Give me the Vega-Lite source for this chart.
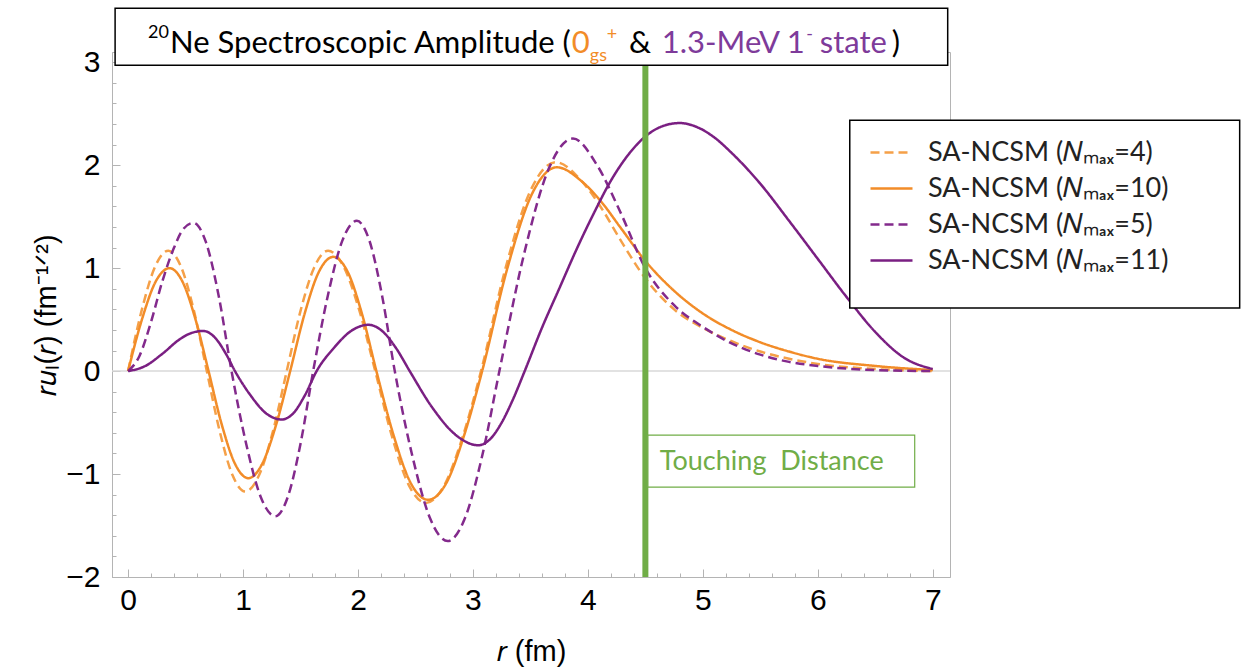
{
  "$schema": "https://vega.github.io/schema/vega-lite/v6.json",
  "width": 838,
  "height": 525,
  "autosize": "none",
  "padding": {"left": 112, "top": 52, "right": 295, "bottom": 95},
  "background": "white",
  "config": {
    "view": {"stroke": "#b4b4b4", "strokeWidth": 1},
    "axis": {
      "domainColor": "#b4b4b4",
      "tickColor": "#b4b4b4",
      "labelFont": "Liberation Sans",
      "labelFontSize": 30,
      "labelColor": "black",
      "titleFont": "Liberation Sans",
      "titleFontSize": 29,
      "titleFontWeight": "normal",
      "titleColor": "black",
      "grid": false,
      "labelOverlap": false,
      "labelFlush": false
    }
  },
  "layer": [
    {
      "data": {"values": [{}]},
      "mark": {"type": "rule", "color": "#d9d9d9", "strokeWidth": 1.5},
      "encoding": {"y": {"datum": 0, "type": "quantitative"}}
    },
    {
      "data": {"values": [
        {"s":"N4","r":0,"v":0},{"s":"N4","r":0.117,"v":0.585},{"s":"N4","r":0.233,"v":1.01},{"s":"N4","r":0.35,"v":1.17},{"s":"N4","r":0.462,"v":1.01},{"s":"N4","r":0.573,"v":0.585},{"s":"N4","r":0.685,"v":0},{"s":"N4","r":0.797,"v":-0.585},{"s":"N4","r":0.908,"v":-1.01},{"s":"N4","r":1.02,"v":-1.17},{"s":"N4","r":1.14,"v":-1.01},{"s":"N4","r":1.26,"v":-0.585},{"s":"N4","r":1.38,"v":0},{"s":"N4","r":1.5,"v":0.585},{"s":"N4","r":1.62,"v":1.01},{"s":"N4","r":1.74,"v":1.17},{"s":"N4","r":1.877,"v":1.01},{"s":"N4","r":2.013,"v":0.585},{"s":"N4","r":2.15,"v":0},{"s":"N4","r":2.297,"v":-0.64},{"s":"N4","r":2.443,"v":-1.11},{"s":"N4","r":2.59,"v":-1.28},{"s":"N4","r":2.75,"v":-1.11},{"s":"N4","r":2.91,"v":-0.64},{"s":"N4","r":3.07,"v":0},{"s":"N4","r":3.287,"v":1.015},{"s":"N4","r":3.503,"v":1.76},{"s":"N4","r":3.72,"v":2.03},{"s":"N4","r":3.95,"v":1.84},{"s":"N4","r":4.12,"v":1.58},{"s":"N4","r":4.28,"v":1.28},{"s":"N4","r":4.5,"v":0.9},{"s":"N4","r":4.75,"v":0.6},{"s":"N4","r":5.0,"v":0.42},{"s":"N4","r":5.25,"v":0.29},{"s":"N4","r":5.5,"v":0.19},{"s":"N4","r":5.75,"v":0.12},{"s":"N4","r":6.0,"v":0.07},{"s":"N4","r":6.5,"v":0.02},{"s":"N4","r":7.0,"v":0},
        {"s":"N10","r":0,"v":0},{"s":"N10","r":0.12,"v":0.5},{"s":"N10","r":0.24,"v":0.87},{"s":"N10","r":0.36,"v":1.0},{"s":"N10","r":0.473,"v":0.87},{"s":"N10","r":0.587,"v":0.5},{"s":"N10","r":0.7,"v":0},{"s":"N10","r":0.815,"v":-0.52},{"s":"N10","r":0.93,"v":-0.9},{"s":"N10","r":1.046,"v":-1.04},{"s":"N10","r":1.167,"v":-0.9},{"s":"N10","r":1.288,"v":-0.52},{"s":"N10","r":1.41,"v":0},{"s":"N10","r":1.535,"v":0.555},{"s":"N10","r":1.66,"v":0.965},{"s":"N10","r":1.785,"v":1.11},{"s":"N10","r":1.91,"v":0.965},{"s":"N10","r":2.035,"v":0.555},{"s":"N10","r":2.16,"v":0},{"s":"N10","r":2.31,"v":-0.625},{"s":"N10","r":2.46,"v":-1.09},{"s":"N10","r":2.61,"v":-1.25},{"s":"N10","r":2.767,"v":-1.09},{"s":"N10","r":2.923,"v":-0.625},{"s":"N10","r":3.08,"v":0},{"s":"N10","r":3.297,"v":0.99},{"s":"N10","r":3.513,"v":1.72},{"s":"N10","r":3.73,"v":1.98},{"s":"N10","r":3.95,"v":1.84},{"s":"N10","r":4.12,"v":1.64},{"s":"N10","r":4.28,"v":1.4},{"s":"N10","r":4.5,"v":1.07},{"s":"N10","r":4.75,"v":0.78},{"s":"N10","r":5.0,"v":0.56},{"s":"N10","r":5.25,"v":0.4},{"s":"N10","r":5.5,"v":0.28},{"s":"N10","r":5.75,"v":0.19},{"s":"N10","r":6.0,"v":0.12},{"s":"N10","r":6.5,"v":0.05},{"s":"N10","r":7.0,"v":0.01},
        {"s":"N5","r":0,"v":0},{"s":"N5","r":0.1,"v":0.15},{"s":"N5","r":0.2,"v":0.48},{"s":"N5","r":0.3,"v":0.88},{"s":"N5","r":0.4,"v":1.2},{"s":"N5","r":0.48,"v":1.38},{"s":"N5","r":0.568,"v":1.44},{"s":"N5","r":0.678,"v":1.25},{"s":"N5","r":0.79,"v":0.72},{"s":"N5","r":0.9,"v":0},{"s":"N5","r":1.027,"v":-0.705},{"s":"N5","r":1.153,"v":-1.22},{"s":"N5","r":1.28,"v":-1.41},{"s":"N5","r":1.39,"v":-1.22},{"s":"N5","r":1.5,"v":-0.705},{"s":"N5","r":1.61,"v":0},{"s":"N5","r":1.737,"v":0.73},{"s":"N5","r":1.863,"v":1.265},{"s":"N5","r":1.99,"v":1.46},{"s":"N5","r":2.1,"v":1.265},{"s":"N5","r":2.21,"v":0.73},{"s":"N5","r":2.32,"v":0},{"s":"N5","r":2.473,"v":-0.825},{"s":"N5","r":2.627,"v":-1.43},{"s":"N5","r":2.78,"v":-1.65},{"s":"N5","r":2.93,"v":-1.43},{"s":"N5","r":3.08,"v":-0.825},{"s":"N5","r":3.23,"v":0},{"s":"N5","r":3.443,"v":1.13},{"s":"N5","r":3.657,"v":1.96},{"s":"N5","r":3.87,"v":2.26},{"s":"N5","r":4.08,"v":2.0},{"s":"N5","r":4.28,"v":1.55},{"s":"N5","r":4.5,"v":1.0},{"s":"N5","r":4.75,"v":0.64},{"s":"N5","r":5.0,"v":0.43},{"s":"N5","r":5.25,"v":0.27},{"s":"N5","r":5.5,"v":0.16},{"s":"N5","r":5.75,"v":0.09},{"s":"N5","r":6.0,"v":0.05},{"s":"N5","r":6.5,"v":0.01},{"s":"N5","r":7.0,"v":0},
        {"s":"N11","r":0,"v":0},{"s":"N11","r":0.15,"v":0.05},{"s":"N11","r":0.3,"v":0.17},{"s":"N11","r":0.45,"v":0.31},{"s":"N11","r":0.55,"v":0.37},{"s":"N11","r":0.655,"v":0.39},{"s":"N11","r":0.76,"v":0.32},{"s":"N11","r":0.85,"v":0.17},{"s":"N11","r":0.93,"v":0},{"s":"N11","r":1.065,"v":-0.235},{"s":"N11","r":1.2,"v":-0.41},{"s":"N11","r":1.336,"v":-0.47},{"s":"N11","r":1.437,"v":-0.41},{"s":"N11","r":1.538,"v":-0.235},{"s":"N11","r":1.64,"v":0},{"s":"N11","r":1.79,"v":0.225},{"s":"N11","r":1.94,"v":0.39},{"s":"N11","r":2.09,"v":0.45},{"s":"N11","r":2.21,"v":0.39},{"s":"N11","r":2.33,"v":0.225},{"s":"N11","r":2.45,"v":0},{"s":"N11","r":2.65,"v":-0.36},{"s":"N11","r":2.85,"v":-0.62},{"s":"N11","r":3.046,"v":-0.72},{"s":"N11","r":3.15,"v":-0.66},{"s":"N11","r":3.25,"v":-0.5},{"s":"N11","r":3.35,"v":-0.27},{"s":"N11","r":3.45,"v":0},{"s":"N11","r":3.6,"v":0.42},{"s":"N11","r":3.75,"v":0.8},{"s":"N11","r":3.9,"v":1.18},{"s":"N11","r":4.05,"v":1.53},{"s":"N11","r":4.2,"v":1.85},{"s":"N11","r":4.35,"v":2.1},{"s":"N11","r":4.5,"v":2.28},{"s":"N11","r":4.65,"v":2.38},{"s":"N11","r":4.8,"v":2.41},{"s":"N11","r":4.95,"v":2.37},{"s":"N11","r":5.1,"v":2.27},{"s":"N11","r":5.25,"v":2.12},{"s":"N11","r":5.5,"v":1.82},{"s":"N11","r":5.75,"v":1.46},{"s":"N11","r":6.0,"v":1.09},{"s":"N11","r":6.25,"v":0.72},{"s":"N11","r":6.5,"v":0.38},{"s":"N11","r":6.75,"v":0.13},{"s":"N11","r":7.0,"v":0.02}
      ]},
      "mark": {"type": "line", "strokeWidth": 2.5, "interpolate": "monotone"},
      "encoding": {
        "x": {
          "field": "r", "type": "quantitative",
          "scale": {"domain": [-0.14, 7.15], "nice": false, "zero": false},
          "axis": {
            "values": [0,0.2,0.4,0.6,0.8,1,1.2,1.4,1.6,1.8,2,2.2,2.4,2.6,2.8,3,3.2,3.4,3.6,3.8,4,4.2,4.4,4.6,4.8,5,5.2,5.4,5.6,5.8,6,6.2,6.4,6.6,6.8,7],
            "tickCount": 200,
            "labelOverlap": false,
            "labelExpr": "datum.value % 1 === 0 ? format(datum.value, 'd') : ''",
            "tickSize": {"condition": {"test": "datum.value % 1 === 0", "value": -8}, "value": -4},
            "labelPadding": 16,
            "title": "𝑟 (fm)",
            "titlePadding": 18
          }
        },
        "y": {
          "field": "v", "type": "quantitative",
          "scale": {"domain": [-2, 3.1], "nice": false, "zero": false},
          "axis": {
            "values": [-2,-1.8,-1.6,-1.4,-1.2,-1,-0.8,-0.6,-0.4,-0.2,0,0.2,0.4,0.6,0.8,1,1.2,1.4,1.6,1.8,2,2.2,2.4,2.6,2.8,3],
            "tickCount": 200,
            "labelOverlap": false,
            "labelExpr": "datum.value % 1 === 0 ? format(datum.value, 'd') : ''",
            "tickSize": {"condition": {"test": "datum.value % 1 === 0", "value": -8}, "value": -4},
            "labelPadding": 20,
            "title": "𝑟𝑢ₗ(𝑟) (fm⁻¹ᐟ²)",
            "titlePadding": 4
          }
        },
        "color": {
          "field": "s", "type": "nominal",
          "scale": {"domain": ["N4", "N10", "N5", "N11"], "range": ["#F5A048", "#F28C28", "#832A8C", "#7A1F82"]},
          "legend": {
            "orient": "none", "legendX": 757, "legendY": 78, "title": null,
            "symbolType": "stroke", "symbolSize": 1764, "symbolStrokeWidth": 2.5,
            "labelFont": "Lato", "labelFontSize": 27, "labelColor": "#222222", "labelOffset": 14,
            "rowPadding": -7, "padding": 0, "labelLimit": 400,
            "labelExpr": "{'N4': 'SA-NCSM (𝑁ₘₐₓ=4)', 'N10': 'SA-NCSM (𝑁ₘₐₓ=10)', 'N5': 'SA-NCSM (𝑁ₘₐₓ=5)', 'N11': 'SA-NCSM (𝑁ₘₐₓ=11)'}[datum.label]"
          }
        },
        "strokeDash": {
          "field": "s", "type": "nominal",
          "scale": {"domain": ["N4", "N10", "N5", "N11"], "range": [[9, 5], [1, 0], [9, 5], [1, 0]]},
          "legend": {
            "orient": "none", "legendX": 757, "legendY": 78, "title": null,
            "symbolType": "stroke", "symbolSize": 1764, "symbolStrokeWidth": 2.5,
            "labelFont": "Lato", "labelFontSize": 27, "labelColor": "#222222", "labelOffset": 14,
            "rowPadding": -7, "padding": 0, "labelLimit": 400,
            "labelExpr": "{'N4': 'SA-NCSM (𝑁ₘₐₓ=4)', 'N10': 'SA-NCSM (𝑁ₘₐₓ=10)', 'N5': 'SA-NCSM (𝑁ₘₐₓ=5)', 'N11': 'SA-NCSM (𝑁ₘₐₓ=11)'}[datum.label]"
          }
        }
      }
    },
    {
      "data": {"values": [{}]},
      "mark": {"type": "rule", "color": "#70AD47", "strokeWidth": 6},
      "encoding": {"x": {"datum": 4.5, "type": "quantitative"}, "y": {"datum": -2, "type": "quantitative"}, "y2": {"datum": 3.0}}
    },
    {
      "data": {"values": [{}]},
      "mark": {"type": "rect", "fill": "white", "stroke": "black", "strokeWidth": 1.5},
      "encoding": {"x": {"datum": -0.113, "type": "quantitative"}, "x2": {"datum": 7.13}, "y": {"datum": 2.971, "type": "quantitative"}, "y2": {"datum": 3.524}}
    },
    {
      "data": {"values": [{}]},
      "mark": {"type": "text", "align": "left", "baseline": "alphabetic", "font": "Lato", "fontSize": 18, "color": "black", "text": "20"},
      "encoding": {"x": {"datum": 0.174, "type": "quantitative"}, "y": {"datum": 3.233, "type": "quantitative"}}
    },
    {
      "data": {"values": [{}]},
      "mark": {"type": "text", "align": "left", "baseline": "alphabetic", "font": "Lato", "fontSize": 31, "color": "black", "text": "Ne Spectroscopic Amplitude ("},
      "encoding": {"x": {"datum": 0.365, "type": "quantitative"}, "y": {"datum": 3.087, "type": "quantitative"}}
    },
    {
      "data": {"values": [{}]},
      "mark": {"type": "text", "align": "left", "baseline": "alphabetic", "font": "Lato", "fontSize": 31, "color": "#F28C28", "text": "0"},
      "encoding": {"x": {"datum": 3.86, "type": "quantitative"}, "y": {"datum": 3.087, "type": "quantitative"}}
    },
    {
      "data": {"values": [{}]},
      "mark": {"type": "text", "align": "left", "baseline": "alphabetic", "font": "Lato", "fontSize": 18, "color": "#F28C28", "text": "gs"},
      "encoding": {"x": {"datum": 4.017, "type": "quantitative"}, "y": {"datum": 3.01, "type": "quantitative"}}
    },
    {
      "data": {"values": [{}]},
      "mark": {"type": "text", "align": "left", "baseline": "alphabetic", "font": "Lato", "fontSize": 18, "color": "#F28C28", "text": "+"},
      "encoding": {"x": {"datum": 4.165, "type": "quantitative"}, "y": {"datum": 3.214, "type": "quantitative"}}
    },
    {
      "data": {"values": [{}]},
      "mark": {"type": "text", "align": "left", "baseline": "alphabetic", "font": "Lato", "fontSize": 31, "color": "black", "text": "&"},
      "encoding": {"x": {"datum": 4.357, "type": "quantitative"}, "y": {"datum": 3.087, "type": "quantitative"}}
    },
    {
      "data": {"values": [{}]},
      "mark": {"type": "text", "align": "left", "baseline": "alphabetic", "font": "Lato", "fontSize": 31, "color": "#7E3B9A", "text": "1.3-MeV 1"},
      "encoding": {"x": {"datum": 4.643, "type": "quantitative"}, "y": {"datum": 3.087, "type": "quantitative"}}
    },
    {
      "data": {"values": [{}]},
      "mark": {"type": "text", "align": "left", "baseline": "alphabetic", "font": "Lato", "fontSize": 18, "color": "#7E3B9A", "text": "-"},
      "encoding": {"x": {"datum": 5.9, "type": "quantitative"}, "y": {"datum": 3.214, "type": "quantitative"}}
    },
    {
      "data": {"values": [{}]},
      "mark": {"type": "text", "align": "left", "baseline": "alphabetic", "font": "Lato", "fontSize": 31, "color": "#7E3B9A", "text": "state"},
      "encoding": {"x": {"datum": 6.017, "type": "quantitative"}, "y": {"datum": 3.087, "type": "quantitative"}}
    },
    {
      "data": {"values": [{}]},
      "mark": {"type": "text", "align": "left", "baseline": "alphabetic", "font": "Lato", "fontSize": 31, "color": "black", "text": ")"},
      "encoding": {"x": {"datum": 6.643, "type": "quantitative"}, "y": {"datum": 3.087, "type": "quantitative"}}
    },
    {
      "data": {"values": [{}]},
      "mark": {"type": "rect", "fill": "white", "stroke": "black", "strokeWidth": 1.5},
      "encoding": {"x": {"datum": 6.278, "type": "quantitative"}, "x2": {"datum": 9.67}, "y": {"datum": 0.612, "type": "quantitative"}, "y2": {"datum": 2.437}}
    },
    {
      "data": {"values": [{}]},
      "mark": {"type": "rect", "fill": "white", "stroke": "#70AD47", "strokeWidth": 1.2},
      "encoding": {"x": {"datum": 4.522, "type": "quantitative"}, "x2": {"datum": 6.843}, "y": {"datum": -1.126, "type": "quantitative"}, "y2": {"datum": -0.621}}
    },
    {
      "data": {"values": [{}]},
      "mark": {"type": "text", "align": "left", "baseline": "alphabetic", "font": "Lato", "fontSize": 27, "color": "#70AD47", "text": "Touching\u00a0 Distance"},
      "encoding": {"x": {"datum": 4.626, "type": "quantitative"}, "y": {"datum": -0.961, "type": "quantitative"}}
    }
  ]
}
